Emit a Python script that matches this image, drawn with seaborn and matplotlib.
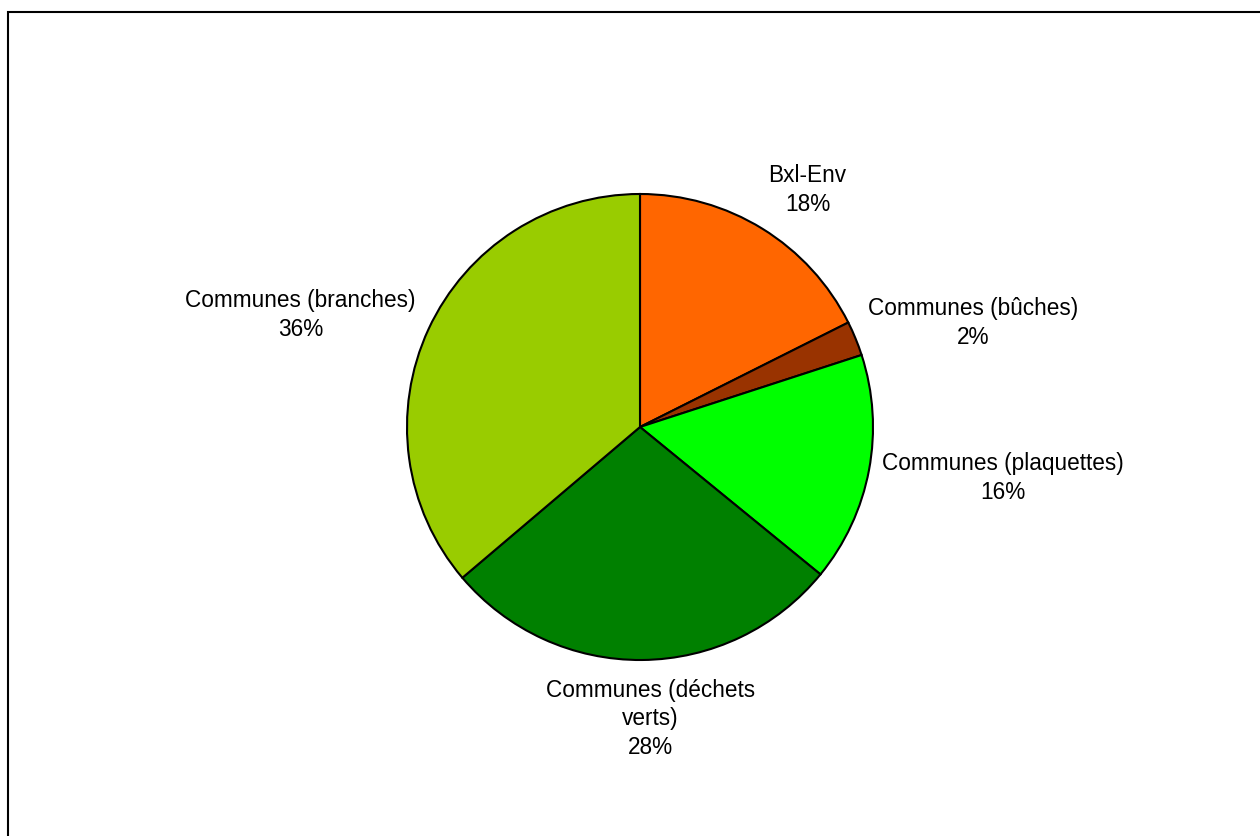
import matplotlib
matplotlib.use("Agg")
import matplotlib.pyplot as plt
import seaborn as sns
import numpy as np
from matplotlib.patches import Rectangle

sns.set_theme(style="white")
plt.rcParams['font.family'] = ['Liberation Sans', 'DejaVu Sans']

categories = ["Bxl-Env", "Communes (bûches)", "Communes (plaquettes)",
              "Communes (déchets\nverts)", "Communes (branches)"]
shares = [17.6, 2.4, 15.9, 27.9, 36.2]
pct_labels = ["18%", "2%", "16%", "28%", "36%"]
colors = ["#FF6600", "#993300", "#00FF00", "#008000", "#99CC00"]

W, H = 1260, 836
fig = plt.figure(figsize=(W / 100, H / 100), dpi=100)
ax = fig.add_axes([0, 0, 1, 1])

cx, cy, R = 640, 427, 233
wedges, _ = ax.pie(shares, colors=colors, startangle=90, counterclock=False,
                   radius=1.0,
                   wedgeprops=dict(edgecolor="black", linewidth=1.5))
ax.set_aspect("auto")
ax.set_xlim(-cx / R, (W - cx) / R)
ax.set_ylim(-(H - cy) / R, cy / R)
ax.axis("off")

# small nudges (pixels) to mimic the original label placement
nudges = [(0, 3), (2, 11), (2, -6), (8, -7), (-2, 9)]
for w, cat, pct, (dx, dy) in zip(wedges, categories, pct_labels, nudges):
    mid = np.deg2rad((w.theta1 + w.theta2) / 2)
    x, y = 1.05 * np.cos(mid), 1.05 * np.sin(mid)
    ha = "left" if x > 0.3 else ("right" if x < -0.3 else "center")
    va = "bottom" if y > 0.5 else ("top" if y < -0.5 else "center")
    ax.annotate(f"{cat}\n{pct}", xy=(x, y), xytext=(dx, dy),
                textcoords="offset pixels", ha=ha, va=va, ma="center",
                fontsize=16.3, color="black", linespacing=1.31)

# chart frame (only top and left edges fall within the image)
fig.patches.append(Rectangle((8 / W, -0.1), 1.2, (H - 12) / H + 0.1,
                             transform=fig.transFigure, fill=False,
                             edgecolor="black", linewidth=1.5))

fig.savefig("out.png", dpi=100, facecolor="white")
